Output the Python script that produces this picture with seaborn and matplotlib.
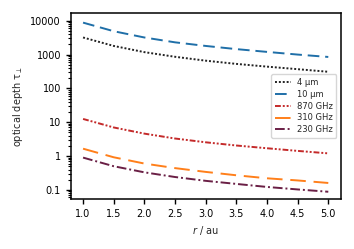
import pandas as pd
import matplotlib
matplotlib.use("Agg")
import matplotlib.pyplot as plt
import matplotlib.ticker as mticker
import seaborn as sns

sns.set_style("ticks", {'axes.edgecolor': 'black', 'xtick.color': 'black', 'ytick.color': 'black'})
plt.rcParams['font.family'] = ['DejaVu Sans']

radius = [1.0, 1.5, 2.0, 2.5, 3.0, 3.5, 4.0, 4.5, 5.0]
tau_4um = [3200, 1800, 1180, 860, 660, 530, 440, 370, 310]
tau_10um = [8800, 4900, 3200, 2300, 1800, 1450, 1200, 1000, 850]
tau_870 = [12.5, 7.0, 4.6, 3.3, 2.55, 2.05, 1.7, 1.42, 1.2]
tau_310 = [1.65, 0.92, 0.6, 0.44, 0.34, 0.27, 0.22, 0.19, 0.16]
tau_230 = [0.9, 0.5, 0.33, 0.24, 0.185, 0.15, 0.122, 0.103, 0.088]

labels = ['4 µm', '10 µm', '870 GHz', '310 GHz', '230 GHz']
series = [tau_4um, tau_10um, tau_870, tau_310, tau_230]
colors = ['#222222', '#1f6fa8', '#c42a2a', '#ff7f1a', '#6a1f45']
dashes = [(1, 1), (6, 3), (3, 1, 1, 1, 1, 1), (8, 4), (5, 1.5, 1, 1.5)]

rows = []
for lab, vals in zip(labels, series):
    for r, v in zip(radius, vals):
        rows.append({'r': r, 'tau': v, 'band': lab})
df = pd.DataFrame(rows)

fig, ax = plt.subplots(figsize=(3.54, 2.49), dpi=100)
sns.lineplot(data=df, x='r', y='tau', hue='band', style='band',
             palette=colors, dashes=dashes, linewidth=1.4, ax=ax)
ax.set_yscale('log')
ax.set_ylim(0.053, 17000)
ax.set_xlim(0.8, 5.2)
ax.set_xticks([1.0, 1.5, 2.0, 2.5, 3.0, 3.5, 4.0, 4.5, 5.0])
ax.set_yticks([0.1, 1, 10, 100, 1000, 10000])
ax.yaxis.set_minor_locator(mticker.LogLocator(base=10, subs=[2, 3, 4, 5, 6, 7, 8, 9], numticks=100))
ax.yaxis.set_minor_formatter(mticker.NullFormatter())
ax.yaxis.set_major_formatter(mticker.FuncFormatter(lambda v, p: '%g' % v))
ax.tick_params(labelsize=7, width=1, length=3.5)
ax.tick_params(axis='y', which='minor', width=0.8, length=2.2, left=True)
for s in ax.spines.values():
    s.set_linewidth(1.1)
ax.set_xlabel(r'$r$ / au', fontsize=7)
ax.set_ylabel('optical depth τ$_\\perp$', fontsize=7)
ax.legend(loc='center right', fontsize=6, handlelength=1.9, labelspacing=0.35,
          borderaxespad=0.5)
fig.subplots_adjust(left=0.2, right=0.962, top=0.948, bottom=0.2)
fig.savefig('out.png', dpi=100)
